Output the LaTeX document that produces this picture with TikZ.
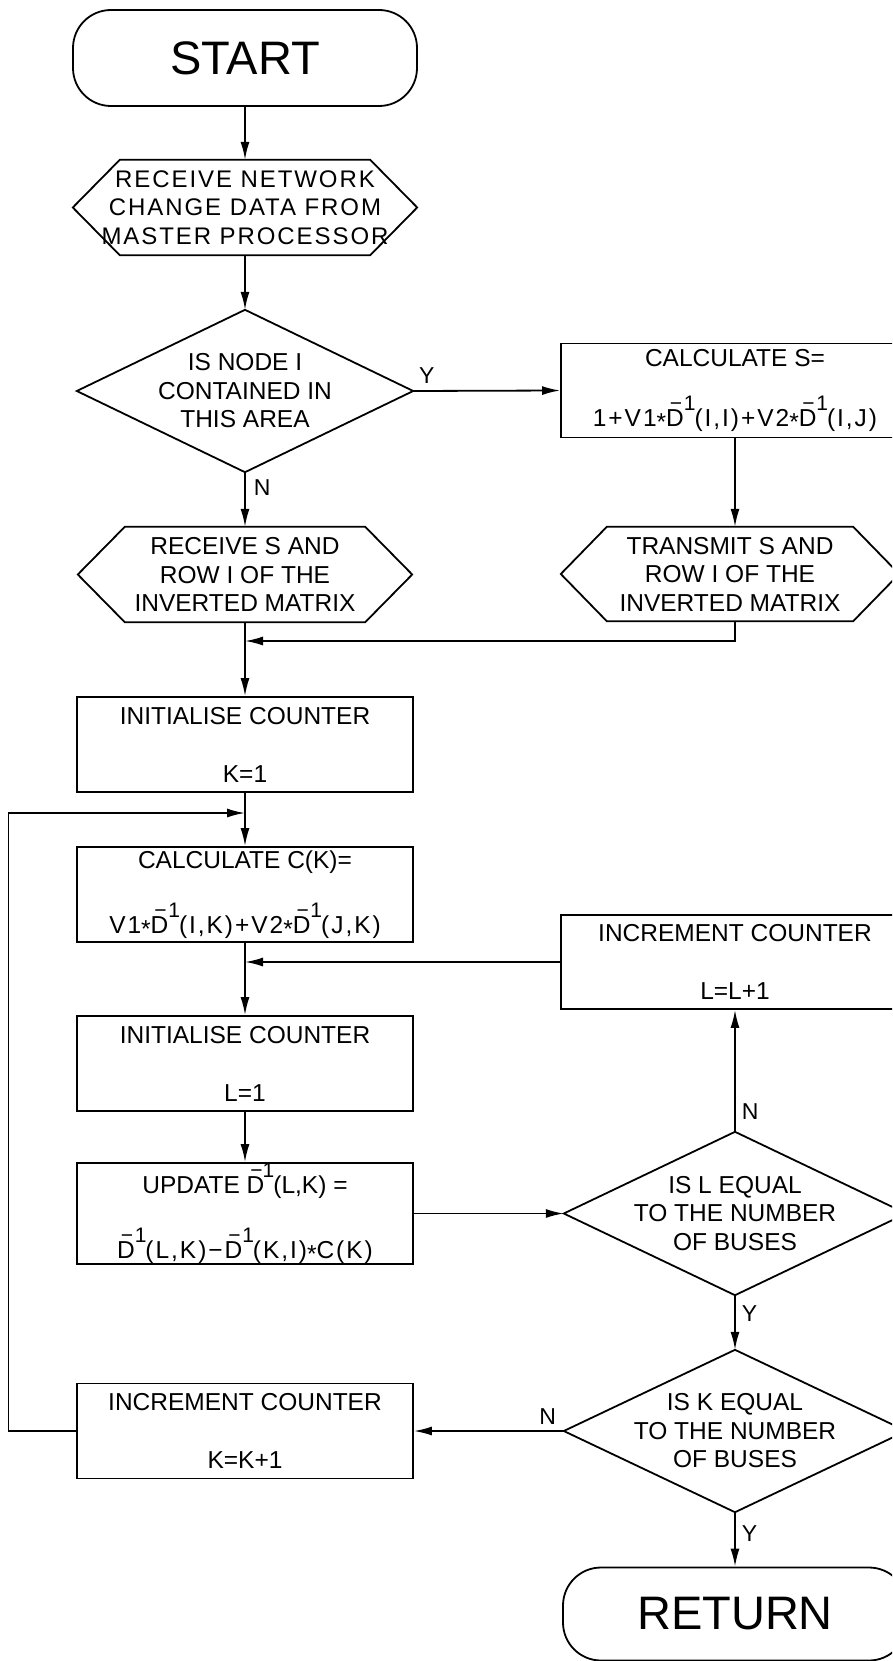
\documentclass[tikz,border=0pt]{standalone}
\usepackage{fontspec}
\setmainfont{Liberation Sans}
\newfontfamily\spfont{Liberation Sans}[LetterSpace=8]
\usetikzlibrary{arrows.meta}
\newcommand\Dinv{D\kern-14pt\raisebox{16pt}{\fontsize{21}{21}\selectfont −1}\kern-1pt}
\newcommand\mulsign{\raisebox{-4pt}{*}}
\newcommand\hexoutline[2]{\draw[shapeline] ([xshift=#2]#1.north west) -- ([xshift=-#2]#1.north east) -- (#1.east) -- ([xshift=-#2]#1.south east) -- ([xshift=#2]#1.south west) -- (#1.west) -- cycle;}
\newcommand\diaoutline[1]{\draw[shapeline] (#1.north) -- (#1.east) -- (#1.south) -- (#1.west) -- cycle;}
\begin{document}
\begin{tikzpicture}[x=1pt,y=-1pt,
  shapeline/.style={line width=1.8pt, line join=miter},
  procbox/.style={draw, line width=1.8pt, rectangle, minimum width=336pt, minimum height=95pt, inner sep=0pt, align=center, font=\fontsize{24.5}{29}\selectfont},
  rbox/.style={procbox, minimum width=348pt, minimum height=94pt},
  holder/.style={rectangle, inner sep=0pt, align=center, font=\fontsize{24.5}{28.5}\selectfont},
  terminal/.style={draw, line width=1.8pt, rectangle, rounded corners=38pt, minimum width=344pt, minimum height=96pt, inner sep=0pt, font=\fontsize{47}{47}\selectfont},
  arr/.style={line width=1.8pt, -{Latex[length=18pt,width=9pt]}},
  lbl/.style={font=\fontsize{23}{23}\selectfont, inner sep=0pt}]
\fill[white] (0,0) rectangle (892,1661);
\useasboundingbox (0,0) rectangle (892,1661);
\clip (0,0) rectangle (892,1661);

\node[terminal] (start) at (245,58) {START};
\node[holder, minimum width=344pt, minimum height=95pt, font=\spfont\fontsize{24}{28.5}\selectfont] (hex1) at (245,207.5) {RECEIVE NETWORK\\CHANGE DATA FROM\\MASTER PROCESSOR};
\hexoutline{hex1}{47pt}
\node[holder, minimum width=336pt, minimum height=162pt] (d1) at (245,391) {IS NODE I\\CONTAINED IN\\THIS AREA};
\diaoutline{d1}
\node[rbox] (calcS) at (735,390.5) {CALCULATE S=\\[29pt]{\spfont 1+V1\mulsign\Dinv(I,I)+V2\mulsign\Dinv(I,J)}};
\node[holder, minimum width=334pt, minimum height=95pt] (recv) at (245,574.5) {RECEIVE S AND\\ROW I OF THE\\INVERTED MATRIX};
\hexoutline{recv}{47pt}
\node[holder, minimum width=338pt, minimum height=94pt] (trans) at (730,574) {TRANSMIT S AND\\ROW I OF THE\\INVERTED MATRIX};
\hexoutline{trans}{46pt}
\coordinate (rx) at (735,0);
\coordinate (m1) at (245,641);
\node[procbox] (initK) at (245,744.5) {INITIALISE COUNTER\\[29pt]K=1};
\coordinate (m2) at (245,813);
\node[procbox] (calcC) at (245,894.5) {CALCULATE C(K)=\\[29pt]{\spfont V1\mulsign\Dinv(I,K)+V2\mulsign\Dinv(J,K)}};
\node[rbox] (incL) at (735,962) {INCREMENT COUNTER\\[29pt]L=L+1};
\coordinate (m3) at (245,962);
\node[procbox] (initL) at (245,1063.5) {INITIALISE COUNTER\\[29pt]L=1};
\node[procbox] (update) at (245,1213.5) {UPDATE \Dinv(L,K) =\\[29pt]{\spfont\Dinv(L,K)−\Dinv(K,I)\mulsign C(K)}};
\node[holder, minimum width=342pt, minimum height=163pt] (dL) at (735,1213.5) {IS L EQUAL\\TO THE NUMBER\\OF BUSES};
\diaoutline{dL}
\node[holder, minimum width=342pt, minimum height=162pt] (dK) at (735,1431) {IS K EQUAL\\TO THE NUMBER\\OF BUSES};
\diaoutline{dK}
\node[procbox] (incK) at (245,1431) {INCREMENT COUNTER\\[29pt]K=K+1};
\node[terminal, minimum height=93pt] (ret) at (735,1614) {RETURN};
\coordinate (lx) at (8.5,1431);

\draw[arr] (start.south) -- (hex1.north);
\draw[arr] (hex1.south) -- (d1.north);
\draw[arr] (d1.east) -- node[pos=0, lbl, anchor=south west, xshift=5pt, yshift=6.5pt] {Y} (calcS.west);
\draw[arr] (d1.south) -- node[pos=0, lbl, anchor=north west, xshift=8pt, yshift=-6.5pt] {N} (recv.north);
\draw[arr] (calcS.south -| rx) -- (trans.north -| rx);
\draw[arr] (trans.south -| rx) |- (m1);
\draw[arr] (recv.south) -- (initK.north);
\draw[arr] (initK.south) -- (calcC.north);
\draw[arr] (incK.west) -- (lx) |- (m2);
\draw[arr] (calcC.south) -- (initL.north);
\draw[arr] (incL.west) -- (m3);
\draw[arr] (initL.south) -- (update.north);
\draw[arr] (update.east) -- (dL.west);
\draw[arr] (dL.north) -- node[pos=0, lbl, anchor=south west, xshift=6pt, yshift=11.5pt] {N} (incL.south);
\draw[arr] (dL.south) -- node[pos=0, lbl, anchor=north west, xshift=6pt, yshift=-9.5pt] {Y} (dK.north);
\draw[arr] (dK.west) -- node[pos=0, lbl, anchor=south east, xshift=-7pt, yshift=5.5pt] {N} (incK.east);
\draw[arr] (dK.south) -- node[pos=0, lbl, anchor=north west, xshift=6pt, yshift=-12.5pt] {Y} (ret.north);
\end{tikzpicture}
\end{document}
